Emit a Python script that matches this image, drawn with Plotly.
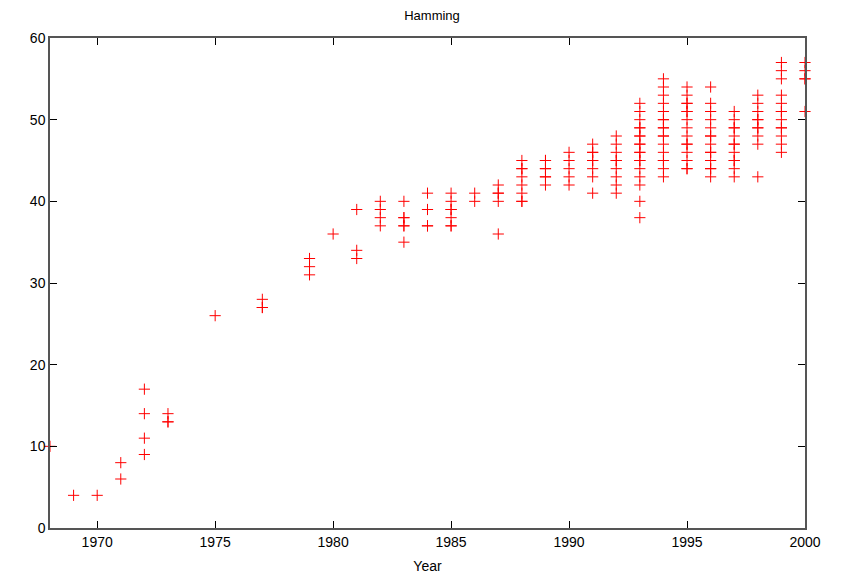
import plotly.graph_objects as go

years = [1968, 1969, 1970, 1971, 1972, 1973, 1975, 1977, 1979, 1980, 1981, 1982,
         1983, 1984, 1985, 1986, 1987, 1988, 1989, 1990, 1991, 1992, 1993, 1994,
         1995, 1996, 1997, 1998, 1999, 2000]
values = [
    [10],
    [4],
    [4],
    [6, 8],
    [9, 11, 14, 17],
    [13, 13, 14],
    [26],
    [27, 27, 28],
    [31, 32, 33],
    [36],
    [33, 34, 39],
    [37, 38, 39, 40],
    [35, 37, 37, 38, 38, 40],
    [37, 37, 39, 41],
    [37, 37, 38, 39, 39, 40, 41],
    [40, 41],
    [36, 40, 41, 41, 42],
    [40, 40, 41, 42, 43, 44, 44, 45],
    [42, 43, 43, 44, 44, 45, 45],
    [42, 43, 44, 45, 46],
    [41, 43, 44, 45, 45, 46, 46, 47],
    [41, 42, 43, 44, 45, 45, 46, 47, 48],
    [38, 40, 42, 43, 44, 45, 45, 46, 46, 47, 47, 48, 48, 49, 49, 50, 51, 52],
    [43, 44, 45, 45, 46, 47, 48, 48, 49, 49, 50, 50, 51, 52, 53, 54, 55],
    [44, 44, 45, 46, 47, 47, 48, 49, 50, 51, 51, 52, 52, 53, 54],
    [43, 44, 44, 45, 46, 46, 47, 48, 48, 49, 50, 51, 52, 54],
    [43, 44, 45, 45, 46, 47, 47, 48, 49, 49, 50, 51],
    [43, 47, 48, 49, 49, 50, 50, 51, 52, 53],
    [46, 47, 48, 49, 49, 50, 51, 51, 52, 53, 55, 56, 57],
    [51, 55, 55, 56, 57],
]
x_ticks = [1970, 1975, 1980, 1985, 1990, 1995, 2000]
y_ticks = [0, 10, 20, 30, 40, 50, 60]

xs, ys = [], []
for yr, vals in zip(years, values):
    for v in vals:
        xs.append(yr)
        ys.append(v)

fig = go.Figure()
fig.add_trace(go.Scatter(
    x=xs, y=ys, mode="markers",
    marker=dict(symbol="cross-thin", size=8, color="red",
                line=dict(color="red", width=1)),
    cliponaxis=False, showlegend=False,
))

font = dict(family="Liberation Sans, Arial, sans-serif", size=14, color="black")
axis_common = dict(showgrid=False, zeroline=False, showline=True, linecolor="#555555",
                   linewidth=1.5, mirror="allticks", ticks="inside", ticklen=7,
                   tickcolor="black", tickwidth=1, tickfont=font)
fig.update_layout(
    width=848, height=582,
    margin=dict(l=42, r=51, t=30, b=62),
    paper_bgcolor="white", plot_bgcolor="white",
    title=dict(text="Hamming", x=0.5, xanchor="center", y=0.988, yanchor="middle",
               font=dict(family="Liberation Sans, Arial, sans-serif", size=13, color="black")),
    xaxis=dict(range=[1968, 2000], tickvals=x_ticks, title=dict(text="Year", font=font, standoff=13),
               **axis_common),
    yaxis=dict(range=[0, 60], tickvals=y_ticks, **axis_common),
    font=font,
)
fig.write_html("out.html")
